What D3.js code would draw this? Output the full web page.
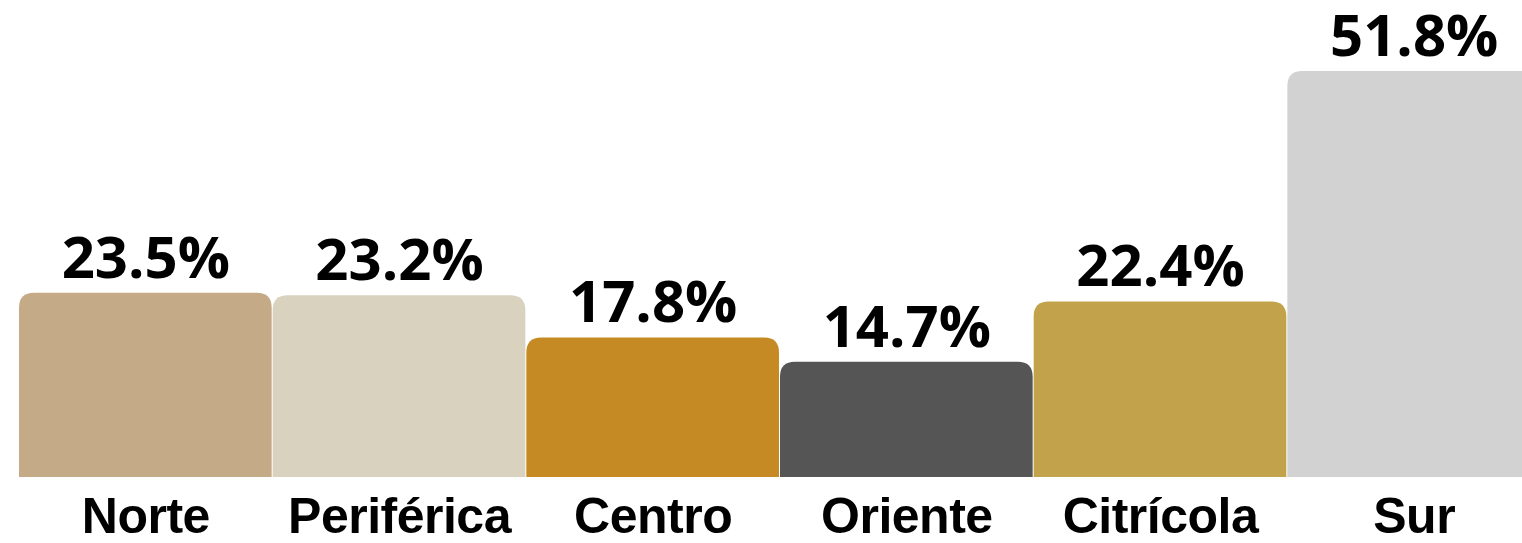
<!DOCTYPE html>
<html>
<head>
<meta charset="utf-8">
<script src="https://cdn.jsdelivr.net/npm/d3@7"></script>
<style>
  html, body { margin: 0; padding: 0; background: #fff; overflow: hidden; }
  svg { display: block; }
</style>
</head>
<body>
<script>
var regions = ["Norte", "Periférica", "Centro", "Oriente", "Citrícola", "Sur"];
var shares = [23.5, 23.2, 17.8, 14.7, 22.4, 51.8];
var barColors = ["#c5aa88", "#d8d2be", "#c68a24", "#555555", "#c2a34b", "#d2d2d2"];

var W = 1522, H = 543;
var base = 477, r = 15;

// last bar runs past the right edge, as in the original
var x = d3.scaleBand()
  .domain(regions)
  .range([19, 1541])
  .paddingInner(0);

var y = d3.scaleLinear()
  .domain([0, 51.8])
  .range([base, 71]);

var svg = d3.select("body").append("svg")
  .attr("width", W)
  .attr("height", H);

// bars with rounded tops
function barPath(d, i) {
  var x0 = x(regions[i]), x1 = x0 + x.bandwidth() - 1, top = y(d);
  return "M" + x0 + "," + base +
    "V" + (top + r) +
    "Q" + x0 + "," + top + " " + (x0 + r) + "," + top +
    "H" + (x1 - r) +
    "Q" + x1 + "," + top + " " + x1 + "," + (top + r) +
    "V" + base + "Z";
}

svg.selectAll("path.bar")
  .data(shares)
  .enter().append("path")
    .attr("class", "bar")
    .attr("d", barPath)
    .attr("fill", function(d, i) { return barColors[i]; });

svg.selectAll("text.val")
  .data(shares)
  .enter().append("text")
    .attr("class", "val")
    .attr("x", function(d, i) { return x(regions[i]) + x.bandwidth() / 2; })
    .attr("y", function(d) { return y(d) - 15; })
    .attr("text-anchor", "middle")
    .attr("font-family", "'Open Sans', 'Noto Sans', sans-serif")
    .attr("font-weight", 700)
    .attr("font-size", 58)
    .attr("fill", "#000")
    .text(function(d) { return d.toFixed(1) + "%"; });

var xAxis = d3.axisBottom(x).tickSize(0).tickPadding(0);
var gx = svg.append("g")
  .attr("transform", "translate(0," + base + ")")
  .call(xAxis);
gx.select(".domain").remove();
gx.selectAll("text")
  .attr("dy", null)
  .attr("y", 56)
  .attr("font-family", "'Liberation Sans', Arial, sans-serif")
  .attr("font-weight", 700)
  .attr("font-size", 50)
  .attr("letter-spacing", "-0.5px")
  .attr("fill", "#000");
</script>
</body>
</html>
